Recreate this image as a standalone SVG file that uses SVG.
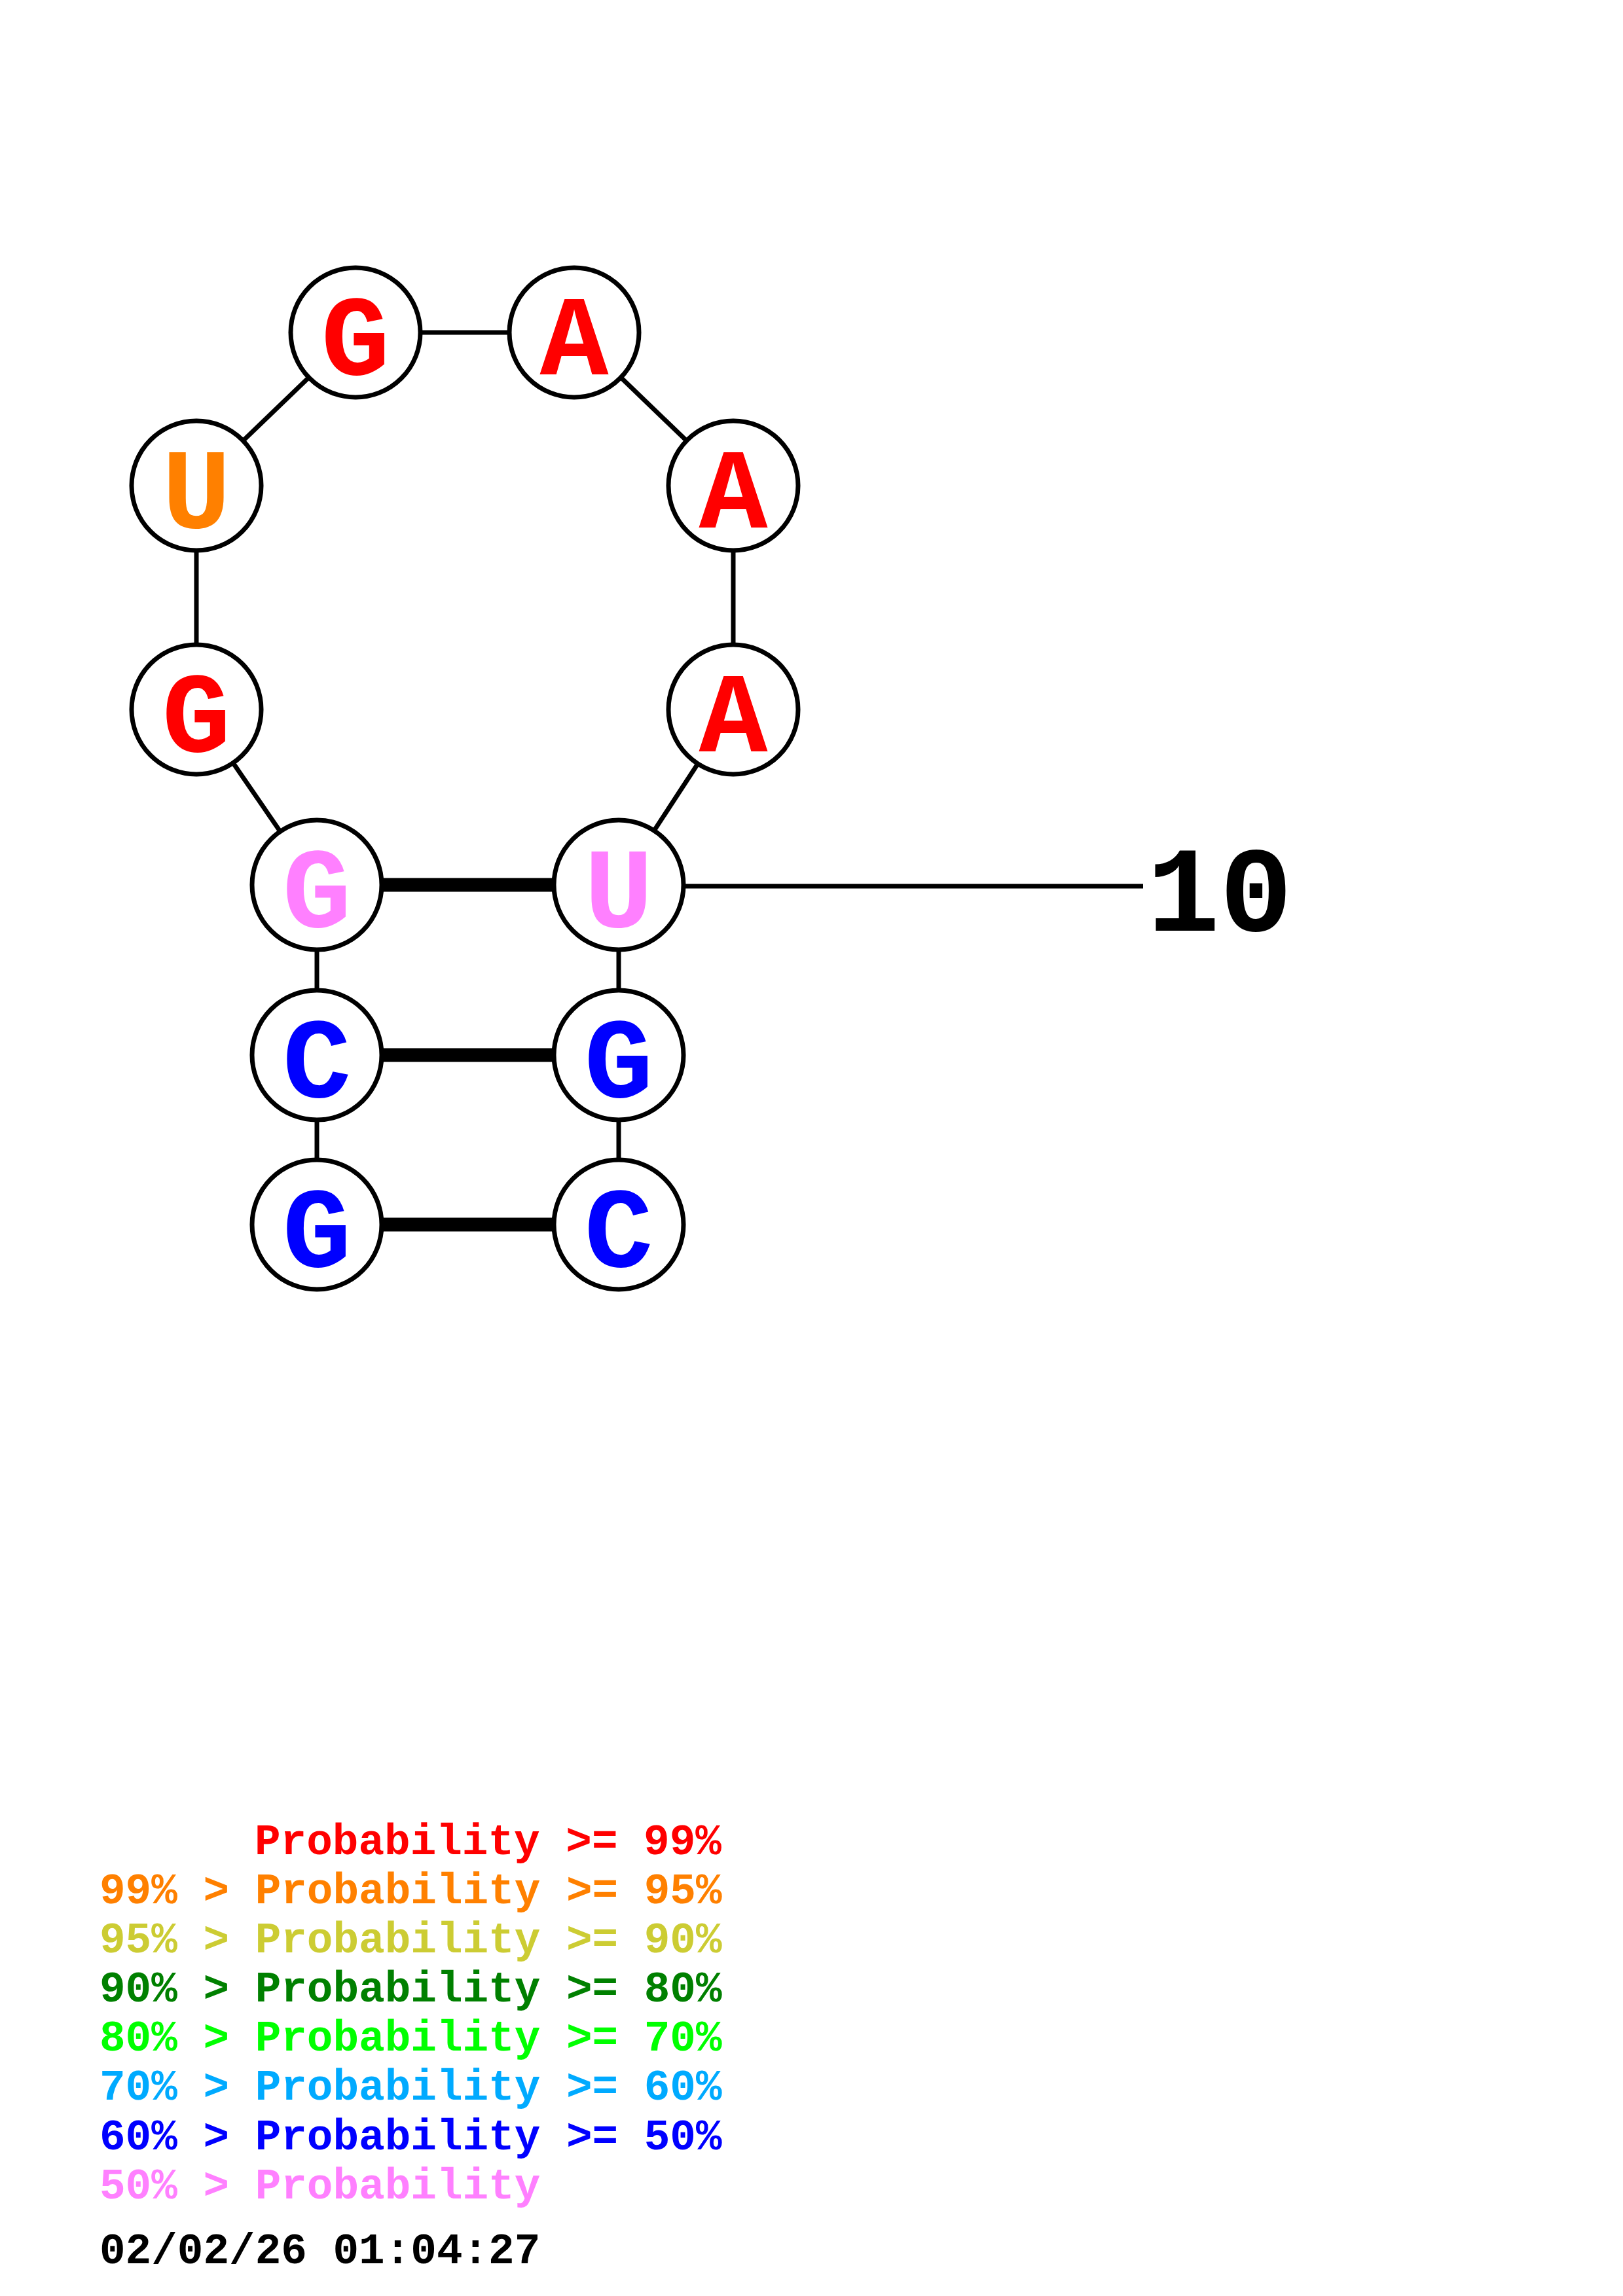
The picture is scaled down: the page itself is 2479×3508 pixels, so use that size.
<svg xmlns="http://www.w3.org/2000/svg" width="2479" height="3508" viewBox="0 0 2479 3508">
<style>
.bb{stroke:#000;stroke-width:7;fill:none}
.bp{stroke:#000;stroke-width:21;fill:none}
.nc{fill:#fff;stroke:#000;stroke-width:7}
.nt{font-family:"Liberation Mono","Courier New",monospace;font-weight:bold;font-size:175px;text-anchor:middle}
.lg{font-family:"Liberation Mono","Courier New",monospace;font-weight:bold;font-size:66px}
.r{fill:#FF0000}.o{fill:#FF8000}.y{fill:#CCCC33}.dg{fill:#008000}.g{fill:#00FF00}.lb{fill:#00AAFF}.b{fill:#0000FF}.p{fill:#FF80FF}
</style>
<rect width="2479" height="3508" fill="#fff"/>
<g id="connectors">
<line class="bb" x1="484" y1="1871" x2="484" y2="1612"/>
<line class="bb" x1="484" y1="1612" x2="484" y2="1352"/>
<line class="bb" x1="484" y1="1352" x2="300" y2="1084"/>
<line class="bb" x1="300" y1="1084" x2="300" y2="742"/>
<line class="bb" x1="300" y1="742" x2="543" y2="508"/>
<line class="bb" x1="543" y1="508" x2="877" y2="508"/>
<line class="bb" x1="877" y1="508" x2="1120" y2="742"/>
<line class="bb" x1="1120" y1="742" x2="1120" y2="1084"/>
<line class="bb" x1="1120" y1="1084" x2="945" y2="1352"/>
<line class="bb" x1="945" y1="1352" x2="945" y2="1612"/>
<line class="bb" x1="945" y1="1612" x2="945" y2="1871"/>
<line class="bp" x1="484" y1="1352" x2="945" y2="1352"/>
<line class="bp" x1="484" y1="1612" x2="945" y2="1612"/>
<line class="bp" x1="484" y1="1871" x2="945" y2="1871"/>
<line class="bb" x1="945" y1="1354" x2="1746" y2="1354"/>
</g>
<g id="n1"><circle class="nc" cx="484" cy="1871" r="99"/><text class="nt b" x="484" y="1935">G</text></g>
<g id="n2"><circle class="nc" cx="484" cy="1612" r="99"/><text class="nt b" x="484" y="1676">C</text></g>
<g id="n3"><circle class="nc" cx="484" cy="1352" r="99"/><text class="nt p" x="484" y="1416">G</text></g>
<g id="n4"><circle class="nc" cx="300" cy="1084" r="99"/><text class="nt r" x="300" y="1148">G</text></g>
<g id="n5"><circle class="nc" cx="300" cy="742" r="99"/><text class="nt o" x="300" y="806">U</text></g>
<g id="n6"><circle class="nc" cx="543" cy="508" r="99"/><text class="nt r" x="543" y="572">G</text></g>
<g id="n7"><circle class="nc" cx="877" cy="508" r="99"/><text class="nt r" x="877" y="572">A</text></g>
<g id="n8"><circle class="nc" cx="1120" cy="742" r="99"/><text class="nt r" x="1120" y="806">A</text></g>
<g id="n9"><circle class="nc" cx="1120" cy="1084" r="99"/><text class="nt r" x="1120" y="1148">A</text></g>
<g id="n10"><circle class="nc" cx="945" cy="1352" r="99"/><text class="nt p" x="945" y="1416">U</text></g>
<g id="n11"><circle class="nc" cx="945" cy="1612" r="99"/><text class="nt b" x="945" y="1676">G</text></g>
<g id="n12"><circle class="nc" cx="945" cy="1871" r="99"/><text class="nt b" x="945" y="1935">C</text></g>
<g id="label10"><text x="1752" y="1422" font-family="'Liberation Mono','Courier New',monospace" font-weight="bold" font-size="185">10</text></g>
<g id="legend">
<text class="lg r" x="389" y="2833">Probability &gt;= 99%</text>
<text class="lg o" x="152" y="2908">99% &gt; Probability &gt;= 95%</text>
<text class="lg y" x="152" y="2983">95% &gt; Probability &gt;= 90%</text>
<text class="lg dg" x="152" y="3058">90% &gt; Probability &gt;= 80%</text>
<text class="lg g" x="152" y="3133">80% &gt; Probability &gt;= 70%</text>
<text class="lg lb" x="152" y="3208">70% &gt; Probability &gt;= 60%</text>
<text class="lg b" x="152" y="3284">60% &gt; Probability &gt;= 50%</text>
<text class="lg p" x="152" y="3359">50% &gt; Probability</text>
<text class="lg" x="152" y="3458" fill="#000">02/02/26 01:04:27</text>
</g>
</svg>
